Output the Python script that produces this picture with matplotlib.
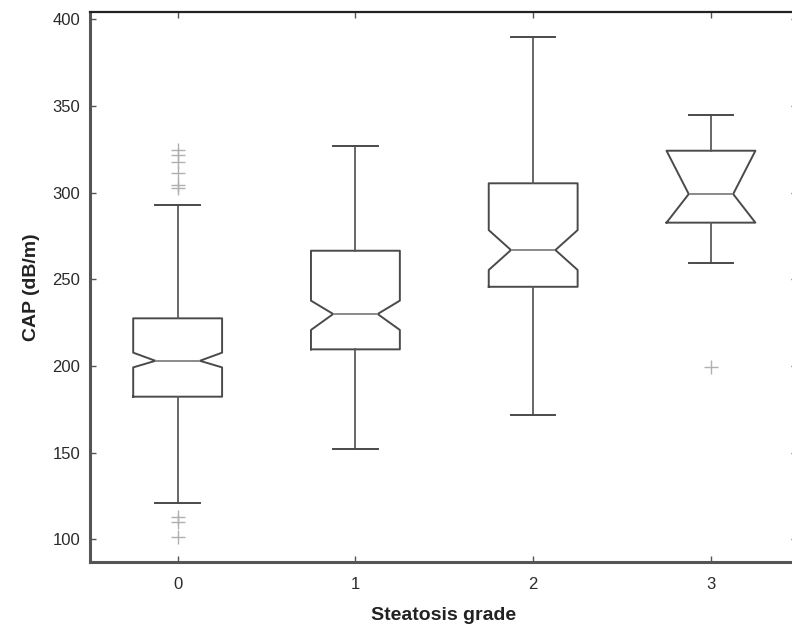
import matplotlib
matplotlib.use("Agg")
import matplotlib.pyplot as plt

plt.rcParams['font.family'] = ['Liberation Sans', 'DejaVu Sans']

grades = ["0", "1", "2", "3"]
positions = [0, 1, 2, 3]
whislo = [120.8, 151.9, 171.7, 259.2]
q1 = [182.3, 209.6, 245.7, 282.7]
med = [203.0, 230.0, 266.9, 299.2]
q3 = [227.5, 266.5, 305.4, 324.2]
whishi = [292.9, 326.9, 390.0, 344.8]
cilo = [199.2, 220.8, 255.4, 282.7]
cihi = [207.7, 237.7, 278.4, 324.2]
fliers = [
    [324.6, 321.7, 317.7, 311.2, 304.4, 302.5, 113.0, 110.0, 101.5],
    [],
    [],
    [199.6],
]

stats = []
for i in range(len(grades)):
    stats.append(dict(med=med[i], q1=q1[i], q3=q3[i], whislo=whislo[i],
                      whishi=whishi[i], cilo=cilo[i], cihi=cihi[i],
                      fliers=fliers[i], label=grades[i]))

fig = plt.figure(figsize=(7.92, 6.25), dpi=100)
ax = fig.add_axes([90/792, 1 - 561.7/625, (797 - 90)/792, 550/625])

line_c = '#4a4a4a'
ax.bxp(stats, positions=positions, widths=0.5, shownotches=True,
       boxprops=dict(color=line_c, linewidth=1.4),
       whiskerprops=dict(color='#5a5a5a', linewidth=1.3),
       capprops=dict(color=line_c, linewidth=1.4),
       medianprops=dict(color='#8a8a8a', linewidth=1.4),
       flierprops=dict(marker='+', markeredgecolor='#b0b0b0', markersize=10,
                       markeredgewidth=1.0, linestyle='none'))

ax.set_xlim(-0.493, 3.484)
ax.set_ylim(87.1, 404.4)
ax.set_xticks(positions)
ax.set_xticklabels(grades)
ax.set_yticks([100, 150, 200, 250, 300, 350, 400])

ax.tick_params(direction='in', length=4, width=1.0, color='#555555',
               labelsize=12, labelcolor='#2a2a2a', top=True, right=True)
ax.tick_params(axis='x', pad=11)
ax.tick_params(axis='y', pad=7)
for side in ['left', 'bottom']:
    ax.spines[side].set_color('#555555')
    ax.spines[side].set_linewidth(2.2)
ax.spines['top'].set_color('#222222')
ax.spines['top'].set_linewidth(1.6)
ax.spines['right'].set_color('#555555')

ax.set_xlabel('Steatosis grade', fontsize=14, fontweight='bold', color='#222222', labelpad=11)
ax.set_ylabel('CAP (dB/m)', fontsize=14, fontweight='bold', color='#222222', labelpad=9)

fig.savefig('out.png', dpi=100)
